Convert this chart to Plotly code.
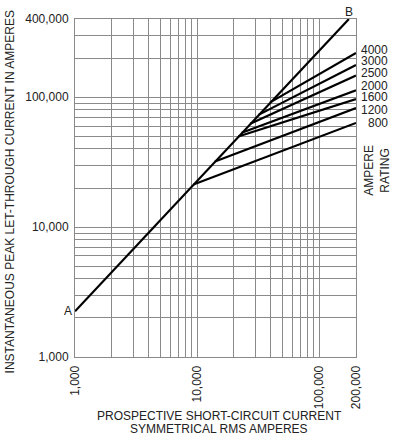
import plotly.graph_objects as go
import math

# ---- data ----
ab_x = [1000, 175000]
ab_y = [2250, 400000]

ratings = ["800", "1200", "1600", "2000", "2500", "3000", "4000"]
knee_x = [9330, 14000, 21700, 23200, 27200, 31800, 39600]
knee_y = [21300, 32000, 49800, 53200, 62500, 73100, 91200]
end_x = [200000] * 7
end_y = [63400, 82500, 96600, 113000, 147000, 177000, 219000]

x_ticks = [1000, 10000, 100000, 200000]
x_tick_text = ["1,000", "10,000", "100,000", "200,000"]
y_ticks = [1000, 10000, 100000, 400000]
y_tick_text = ["1,000", "10,000", "100,000", "400,000"]

x_minor = [m * 10 ** d for d in (3, 4) for m in range(2, 10)]
y_minor = [m * 10 ** d for d in (3, 4) for m in range(2, 10)] + [200000, 300000]

W, H = 394, 440
ML, MR, MT, MB = 75, 38, 14, 83
PW, PH = W - ML - MR, H - MT - MB

def px(xp):
    return (xp - ML) / PW

def py(yp):
    return (H - MB - yp) / PH

GRID = "#8a8a8a"
FONT = "Liberation Sans, Arial, sans-serif"

fig = go.Figure()
fig.add_trace(go.Scatter(x=ab_x, y=ab_y, mode="lines",
                         line=dict(color="black", width=2.2), showlegend=False,
                         hoverinfo="skip"))
for r, kx, ky, ex, ey in zip(ratings, knee_x, knee_y, end_x, end_y):
    fig.add_trace(go.Scatter(x=[kx, ex], y=[ky, ey], mode="lines", name=r,
                             line=dict(color="black", width=2.2), showlegend=False,
                             hoverinfo="skip"))

axis_common = dict(
    type="log", showgrid=True, gridcolor=GRID, gridwidth=1,
    showline=True, linecolor=GRID, linewidth=1, mirror=True,
    ticks="", zeroline=False, tickfont=dict(family=FONT, size=12, color="#222"),
)

fig.update_xaxes(**axis_common, range=[3, math.log10(200000)],
                 tickmode="array", tickvals=x_ticks, ticktext=x_tick_text,
                 tickangle=-90, ticklabelstandoff=3,
                 minor=dict(tickmode="array", tickvals=x_minor, showgrid=True,
                            gridcolor=GRID, gridwidth=1, ticks=""))
fig.update_yaxes(**axis_common, range=[3, math.log10(400000)],
                 tickmode="array", tickvals=y_ticks, ticktext=y_tick_text,
                 ticklabelstandoff=3,
                 minor=dict(tickmode="array", tickvals=y_minor, showgrid=True,
                            gridcolor=GRID, gridwidth=1, ticks=""))

ann = []
# axis titles
ann.append(dict(text="INSTANTANEOUS PEAK LET-THROUGH CURRENT IN AMPERES",
                x=px(10), y=py(190), xref="paper", yref="paper", textangle=-90,
                showarrow=False, xanchor="center", yanchor="middle",
                font=dict(family=FONT, size=12, color="#222")))
ann.append(dict(text="PROSPECTIVE SHORT-CIRCUIT CURRENT",
                x=px(219), y=py(417), xref="paper", yref="paper",
                showarrow=False, xanchor="center", yanchor="middle",
                font=dict(family=FONT, size=12, color="#222")))
ann.append(dict(text="SYMMETRICAL RMS AMPERES",
                x=px(219), y=py(430), xref="paper", yref="paper",
                showarrow=False, xanchor="center", yanchor="middle",
                font=dict(family=FONT, size=12, color="#222")))
# rating labels
label_y = [119.3, 106, 93.5, 81.7, 69.3, 57, 45]
for r, ly in zip(ratings, label_y):
    ann.append(dict(text=r, x=px(390), y=py(ly), xref="paper", yref="paper",
                    showarrow=False, xanchor="right", yanchor="middle",
                    font=dict(family=FONT, size=12, color="#222")))
ann.append(dict(text="AMPERE<br>RATING", x=px(377), y=py(168), xref="paper",
                yref="paper", textangle=-90, showarrow=False,
                xanchor="center", yanchor="middle",
                font=dict(family=FONT, size=12, color="#222")))
# A / B labels
ann.append(dict(text="A", x=math.log10(ab_x[0]), y=math.log10(ab_y[0]),
                xref="x", yref="y", showarrow=False, xanchor="right",
                yanchor="middle", xshift=-1,
                font=dict(family=FONT, size=12, color="#222")))
ann.append(dict(text="B", x=math.log10(ab_x[1]), y=math.log10(ab_y[1]),
                xref="x", yref="y", showarrow=False, xanchor="center",
                yanchor="bottom", yshift=-2,
                font=dict(family=FONT, size=12, color="#222")))

fig.update_layout(width=W, height=H, margin=dict(l=ML, r=MR, t=MT, b=MB),
                  paper_bgcolor="white", plot_bgcolor="white",
                  annotations=ann, showlegend=False)

fig.write_html("out.html", config={"displayModeBar": False},
               post_script="document.body.style.margin='0';document.body.style.overflow='hidden';")
